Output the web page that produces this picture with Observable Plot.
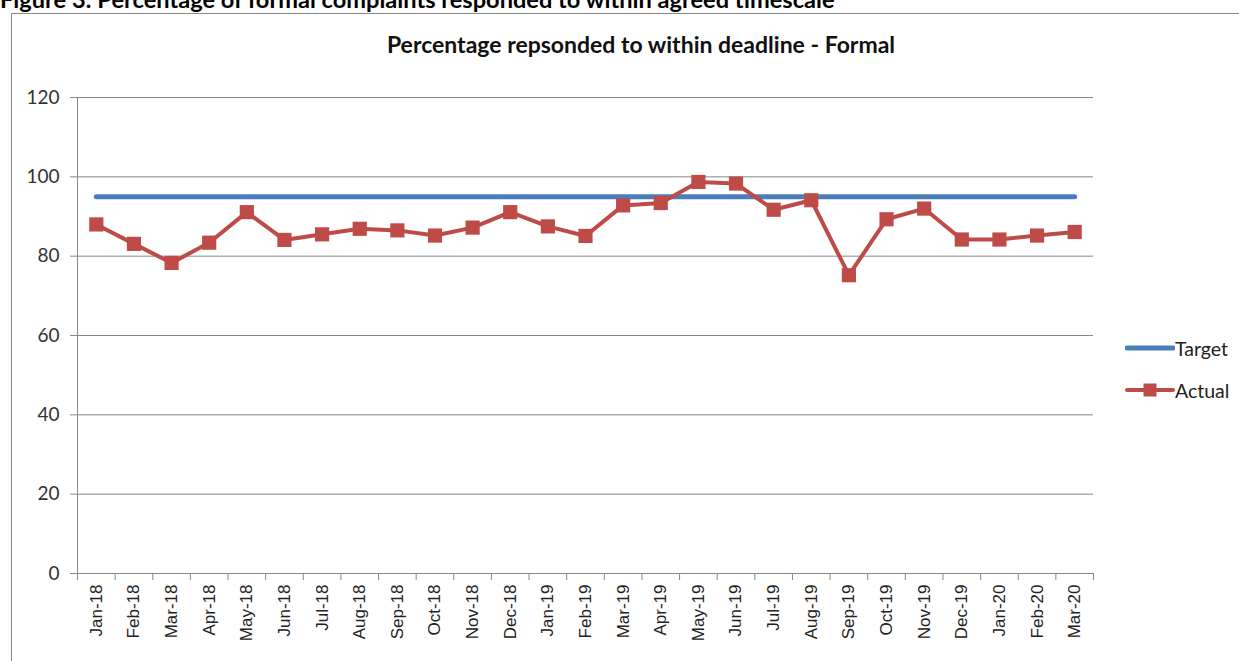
<!DOCTYPE html>
<html>
<head>
<meta charset="utf-8">
<script src="https://cdn.jsdelivr.net/npm/d3@7"></script>
<script src="https://cdn.jsdelivr.net/npm/@observablehq/plot@0.6"></script>
<style>
  body { margin: 0; background: #fff; }
  #page { position: relative; width: 1239px; height: 661px; overflow: hidden; font-family: Lato, "Open Sans", sans-serif; color: #000; }
  #heading { position: absolute; left: 0; top: -15px; font-weight: bold; font-size: 23.6px; white-space: nowrap; }
  #box { position: absolute; left: 11px; top: 13px; width: 1300px; height: 700px; border: 1.5px solid #8a8a8a; box-sizing: border-box; }
  #chart { position: absolute; left: 0; top: 0; }
  #title { position: absolute; left: 641px; top: 30px; transform: translateX(-50%); font-weight: bold; font-size: 23px; white-space: nowrap; color: #111; }
  #legend { position: absolute; left: 1125px; top: 327px; font-size: 19.5px; color: #222; }
  #legend .row { display: flex; align-items: center; height: 42px; }
  #legend svg { display: block; }
</style>
</head>
<body>
<div id="page">
  <div id="heading">Figure 3: Percentage of formal complaints responded to within agreed timescale</div>
  <div id="box"></div>
  <div id="chart"></div>
  <div id="title">Percentage repsonded to within deadline - Formal</div>
  <div id="legend"></div>
</div>
<script>
// Monthly categories on the x axis
const months = [
  "Jan-18", "Feb-18", "Mar-18", "Apr-18", "May-18", "Jun-18", "Jul-18", "Aug-18", "Sep-18",
  "Oct-18", "Nov-18", "Dec-18", "Jan-19", "Feb-19", "Mar-19", "Apr-19", "May-19", "Jun-19",
  "Jul-19", "Aug-19", "Sep-19", "Oct-19", "Nov-19", "Dec-19", "Jan-20", "Feb-20", "Mar-20"
];

// Target percentage for each month
const target = [
  95, 95, 95, 95, 95, 95, 95, 95, 95,
  95, 95, 95, 95, 95, 95, 95, 95, 95,
  95, 95, 95, 95, 95, 95, 95, 95, 95
];

// Actual percentage responded to within deadline
const actual = [
  88.0, 83.1, 78.3, 83.4, 91.1, 84.1, 85.5, 86.9, 86.5,
  85.2, 87.2, 91.1, 87.5, 85.1, 92.8, 93.4, 98.7, 98.3,
  91.7, 94.1, 75.2, 89.3, 92.0, 84.2, 84.2, 85.2, 86.1
];

// Y axis tick values
const yTicks = [0, 20, 40, 60, 80, 100, 120];

const seriesColors = { Target: "#4a7ebb", Actual: "#be4b48" };

const idx = months.map((_, i) => i);
const boundaries = months.map((_, i) => i - 0.5).concat([months.length - 0.5]);
const gridColor = "#878787";

const chart = Plot.plot({
  width: 1239,
  height: 661,
  marginLeft: 77,
  marginRight: 146,
  marginTop: 97,
  marginBottom: 88,
  style: { fontFamily: "Lato, 'Open Sans', sans-serif", background: "transparent", overflow: "visible" },
  x: { type: "linear", domain: [-0.5, months.length - 0.5] },
  y: { domain: [0, 120] },
  marks: [
    Plot.gridY(yTicks, { stroke: gridColor, strokeOpacity: 1, strokeWidth: 1 }),
    Plot.ruleX([-0.5], { y1: 0, y2: 120, stroke: gridColor, strokeWidth: 1 }),
    Plot.ruleY([0], { stroke: gridColor, strokeWidth: 1 }),
    Plot.axisY(yTicks, {
      tickSize: 7, tickPadding: 11, stroke: gridColor, fill: "#333",
      fontSize: 19, label: null, tickFormat: d => String(d)
    }),
    Plot.axisX(boundaries, {
      tickSize: 7, stroke: gridColor, tickFormat: () => "", label: null
    }),
    Plot.axisX(idx, {
      tickSize: 0, tickPadding: 11, tickRotate: -90, fill: "#222",
      fontSize: 17, fontFamily: "'Liberation Sans', Arial, sans-serif",
      tickFormat: i => months[i], label: null
    }),
    Plot.lineY(target, { x: (d, i) => i, y: d => d, stroke: seriesColors.Target, strokeWidth: 5, strokeLinecap: "round" }),
    Plot.lineY(actual, { x: (d, i) => i, y: d => d, stroke: seriesColors.Actual, strokeWidth: 4, strokeLinejoin: "round" }),
    Plot.dot(actual, { x: (d, i) => i, y: d => d, symbol: "square", r: 8, fill: seriesColors.Actual, stroke: "none" })
  ]
});
document.getElementById("chart").append(chart);

// Legend keys to the right of the plot
const legend = document.getElementById("legend");
for (const name of ["Target", "Actual"]) {
  const row = document.createElement("div");
  row.className = "row";
  const key = d3.create("svg").attr("width", 50).attr("height", 16);
  key.append("line").attr("x1", 2).attr("x2", 48).attr("y1", 8).attr("y2", 8)
    .attr("stroke", seriesColors[name]).attr("stroke-width", name === "Target" ? 5 : 4).attr("stroke-linecap", "round");
  if (name === "Actual") key.append("rect").attr("x", 18.5).attr("y", 1.5).attr("width", 13).attr("height", 13).attr("fill", seriesColors[name]);
  row.append(key.node());
  const label = document.createElement("span");
  label.textContent = name;
  row.append(label);
  legend.append(row);
}
</script>
</body>
</html>
